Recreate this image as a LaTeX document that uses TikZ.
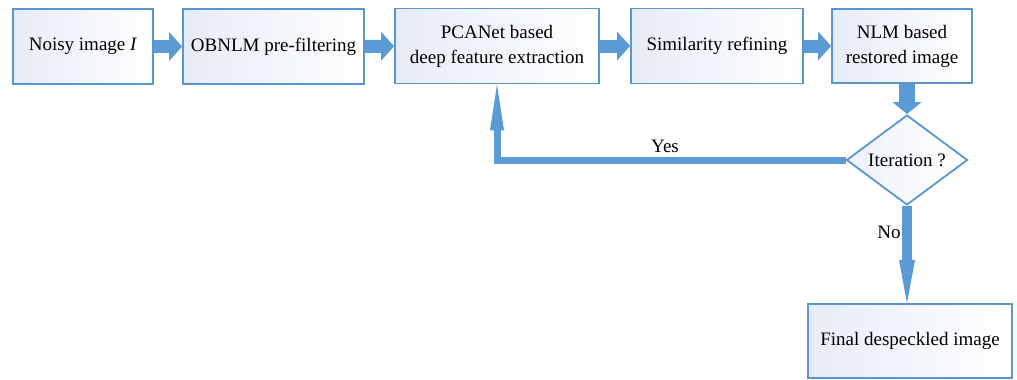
\documentclass[tikz,border=0pt]{standalone}
\usepackage{fontspec}
\setmainfont{Liberation Serif}
\usetikzlibrary{shapes.geometric,arrows.meta}
\definecolor{edge}{HTML}{5B95D0}
\definecolor{arr}{HTML}{5B9BD5}
\definecolor{boxfill}{HTML}{E6ECF7}
\tikzset{
  stepbox/.style={draw=edge, line width=1.8pt, left color=boxfill, right color=white,
    inner sep=0pt, align=center, font=\fontsize{19pt}{25pt}\selectfont},
  fatarrow/.style={draw=arr, line width=13pt, -{Triangle[width=29pt,length=13pt,line width=0pt]}},
  downfat/.style={draw=arr, line width=16pt, -{Triangle[width=29pt,length=12pt,line width=0pt]}},
  thinarrow/.style={draw=arr, line width=7pt, line join=miter, -{Triangle[width=14pt,length=46pt,line width=0pt]}},
  noarrow/.style={draw=arr, line width=10pt, -{Triangle[width=16pt,length=43pt,line width=0pt]}},
  lbl/.style={font=\fontsize{19pt}{25pt}\selectfont, inner sep=0pt},
}
\begin{document}
\begin{tikzpicture}[x=1pt,y=-1pt]
\useasboundingbox (0,0) rectangle (1017,380);
\node[stepbox, minimum width=140pt, minimum height=75pt] (b1) at (83,46.5) {Noisy image \textit{I}};
\node[stepbox, minimum width=181pt, minimum height=75pt] (b2) at (273.5,46.5) {OBNLM pre-filtering};
\node[stepbox, minimum width=204pt, minimum height=75pt] (b3) at (497,46) {PCANet based\\deep feature extraction};
\node[stepbox, minimum width=172pt, minimum height=75pt] (b4) at (717,46) {Similarity refining};
\node[stepbox, minimum width=140pt, minimum height=74pt] (b5) at (902,46) {NLM based\\restored image};
\node[diamond, draw=edge, line width=1.8pt, left color=boxfill!70, right color=white,
  minimum width=121pt, minimum height=90pt, inner sep=0pt] (d) at (907,160) {};
\node[lbl] (dt) at (d.center) {Iteration ?};
\node[stepbox, minimum width=204pt, minimum height=74pt] (f) at (910,341) {Final despeckled image};

\draw[fatarrow] (b1) -- (b2);
\draw[fatarrow] (b2) -- (b3);
\draw[fatarrow] (b3) -- (b4);
\draw[fatarrow] (b4) -- (b5);
\draw[downfat] (b5.south -| d.north) -- (d.north);
\draw[thinarrow] (d.west) -| (b3.south);
\draw[noarrow] (d.south) -- (d.south |- f.north);
\node[lbl] (yes) at (665,146) {Yes};
\node[lbl] (no) at (889,232) {No};
\end{tikzpicture}
\end{document}
